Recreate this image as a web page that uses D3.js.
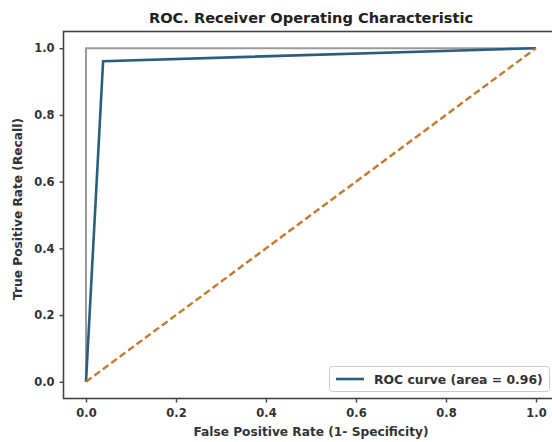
<!DOCTYPE html>
<html><head><meta charset="utf-8">
<script src="https://cdn.jsdelivr.net/npm/d3@7"></script>
<style>body{margin:0;background:#fff}svg{display:block}text{font-family:"DejaVu Sans",sans-serif}</style>
</head><body><svg id="c" width="552" height="442"></svg>
<script>
const rocFpr = [0, 0.038, 1];
const rocTpr = [0, 0.961, 1];
const perfectFpr = [0, 0, 1];
const perfectTpr = [0, 1, 1];
const diagFpr = [0, 1];
const diagTpr = [0, 1];
const xTicks = [0, 0.2, 0.4, 0.6, 0.8, 1.0];
const yTicks = [0, 0.2, 0.4, 0.6, 0.8, 1.0];
const title = "ROC. Receiver Operating Characteristic";
const xLabel = "False Positive Rate (1- Specificity)";
const yLabel = "True Positive Rate (Recall)";
const legendLabel = "ROC curve (area = 0.96)";

const svg = d3.select("#c");
const x = d3.scaleLinear().domain([-0.05, 1.05]).range([63.5, 558.5]);
const y = d3.scaleLinear().domain([-0.05, 1.05]).range([398.5, 31.5]);

// axes frame
svg.append("rect").attr("x", 63.5).attr("y", 31.5).attr("width", 495).attr("height", 367)
  .attr("fill", "none").attr("stroke", "#444").attr("stroke-width", 1.6);

const line = d3.line().x(d => x(d[0])).y(d => y(d[1]));
const zip = (a, b) => a.map((v, i) => [v, b[i]]);

svg.append("path").attr("d", line(zip(perfectFpr, perfectTpr)))
  .attr("fill", "none").attr("stroke", "#9a9a9a").attr("stroke-width", 2);
svg.append("path").attr("d", line(zip(rocFpr, rocTpr)))
  .attr("fill", "none").attr("stroke", "#2b5d7d").attr("stroke-width", 2.6);
svg.append("path").attr("d", line(zip(diagFpr, diagTpr)))
  .attr("fill", "none").attr("stroke", "#c47a2c").attr("stroke-width", 2.4)
  .attr("stroke-dasharray", "7,3.5");

const fmt = d3.format(".1f");
const xa = svg.append("g").attr("transform", "translate(0,398.5)")
  .call(d3.axisBottom(x).tickValues(xTicks).tickFormat(fmt).tickSize(4).tickPadding(6));
const ya = svg.append("g").attr("transform", "translate(63.5,0)")
  .call(d3.axisLeft(y).tickValues(yTicks).tickFormat(fmt).tickSize(4).tickPadding(5));
[xa, ya].forEach(g => {
  g.select(".domain").remove();
  g.selectAll("line").attr("stroke", "#444").attr("stroke-width", 1.4);
  g.selectAll("text").attr("font-size", 11.5).attr("font-weight", "bold").attr("fill", "#333")
    .attr("font-family", "DejaVu Sans");
});

svg.append("text").attr("x", 311).attr("y", 23).attr("text-anchor", "middle")
  .attr("font-size", 14.6).attr("font-weight", "bold").attr("fill", "#222").text(title);
svg.append("text").attr("x", 311).attr("y", 436).attr("text-anchor", "middle")
  .attr("font-size", 12.2).attr("font-weight", "bold").attr("fill", "#333").text(xLabel);
svg.append("text").attr("transform", "translate(22,209) rotate(-90)").attr("text-anchor", "middle")
  .attr("font-size", 12.2).attr("font-weight", "bold").attr("fill", "#333").text(yLabel);

// legend
const lg = svg.append("g");
lg.append("rect").attr("x", 329.5).attr("y", 366.5).attr("width", 220).attr("height", 25).attr("rx", 3)
  .attr("fill", "#fff").attr("fill-opacity", 0.85).attr("stroke", "#ccc");
lg.append("line").attr("x1", 336).attr("x2", 364).attr("y1", 379).attr("y2", 379)
  .attr("stroke", "#2b5d7d").attr("stroke-width", 2.6);
lg.append("text").attr("x", 374).attr("y", 383.5).attr("font-size", 12.4).attr("font-weight", "bold")
  .attr("fill", "#333").text(legendLabel);
</script></body></html>
